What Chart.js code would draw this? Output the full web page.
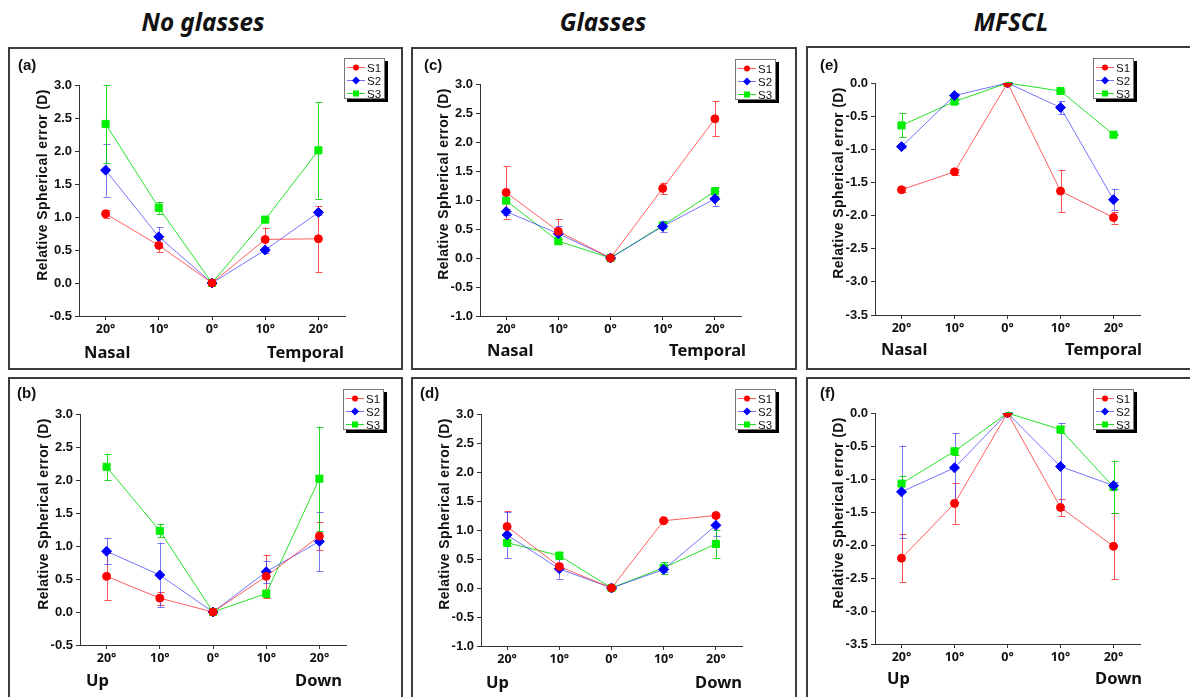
<!DOCTYPE html>
<html><head><meta charset="utf-8">
<script src="https://cdn.jsdelivr.net/npm/chart.js@4.4.1/dist/chart.umd.min.js"></script>
<style>
html,body{margin:0;padding:0}
body{width:1190px;height:697px;background:#fff;position:relative;overflow:hidden;font-family:'Liberation Sans',Arial,sans-serif}
.box{position:absolute;border:2px solid #3c3c3c;box-sizing:border-box}
canvas{position:absolute}
.title{position:absolute;top:4px;font-family:'Noto Sans',sans-serif;font-style:italic;font-weight:bold;font-size:25px;color:#111;transform:translateX(-50%) scaleX(0.97);white-space:nowrap}
.plabel{position:absolute;font-family:'Liberation Sans',Arial,sans-serif;font-weight:bold;font-size:15px;color:#111;line-height:16px}
.ytitle{position:absolute;font-family:'Liberation Sans Narrow','Liberation Sans',Arial,sans-serif;font-weight:bold;font-size:14px;letter-spacing:0.4px;color:#111;white-space:nowrap;transform:translate(-50%,-50%) rotate(-90deg)}
.dir{position:absolute;font-family:'Noto Sans',sans-serif;font-weight:bold;font-size:16.5px;color:#111;line-height:20px;white-space:nowrap}
.legend{position:absolute;width:41px;height:41px;background:#fff;border:1px solid #777;box-sizing:border-box;box-shadow:3px 3px 0 #000;padding-top:2px}
.legend .row{height:13px;display:flex;align-items:center;font-family:'Liberation Sans Narrow','Liberation Sans',Arial,sans-serif;font-size:11.5px;color:#111}
.legend svg{margin-left:2px;margin-right:2px}
</style>
</head><body>
<script>
// ---------- data ----------
const xLabels = ['20°','10°','0°','10°','20°'];
const seriesNames = ['S1','S2','S3'];

// (a) No glasses, Nasal-Temporal
const a_S1 = [1.05, 0.57, 0, 0.66, 0.67];
const a_S1_err = [0.06, 0.10, 0.02, 0.18, 0.50];
const a_S2 = [1.71, 0.70, 0, 0.50, 1.07];
const a_S2_err = [0.40, 0.15, 0.02, 0.05, 0.04];
const a_S3 = [2.41, 1.14, 0, 0.96, 2.01];
const a_S3_err = [0.59, 0.09, 0.02, 0.02, 0.73];

// (b) No glasses, Up-Down
const b_S1 = [0.54, 0.21, 0, 0.54, 1.15];
const b_S1_err = [0.36, 0.10, 0.02, 0.33, 0.21];
const b_S2 = [0.92, 0.56, 0, 0.61, 1.07];
const b_S2_err = [0.20, 0.49, 0.02, 0.17, 0.45];
const b_S3 = [2.20, 1.23, 0, 0.28, 2.02];
const b_S3_err = [0.20, 0.10, 0.02, 0.06, 0.79];

// (c) Glasses, Nasal-Temporal
const c_S1 = [1.13, 0.46, 0, 1.20, 2.40];
const c_S1_err = [0.45, 0.21, 0.02, 0.10, 0.30];
const c_S2 = [0.80, 0.42, 0, 0.545, 1.02];
const c_S2_err = [0.05, 0.14, 0.02, 0.10, 0.13];
const c_S3 = [0.99, 0.29, 0, 0.56, 1.15];
const c_S3_err = [0.03, 0.04, 0.02, 0.05, 0.08];

// (d) Glasses, Up-Down
const d_S1 = [1.06, 0.37, 0, 1.16, 1.25];
const d_S1_err = [0.26, 0.05, 0.02, 0.02, 0.03];
const d_S2 = [0.915, 0.33, 0, 0.32, 1.08];
const d_S2_err = [0.40, 0.17, 0.02, 0.04, 0.18];
const d_S3 = [0.78, 0.56, 0, 0.35, 0.76];
const d_S3_err = [0.05, 0.06, 0.02, 0.10, 0.24];

// (e) MFSCL, Nasal-Temporal
const e_S1 = [-1.61, -1.34, 0, -1.63, -2.03];
const e_S1_err = [0.04, 0.05, 0.02, 0.32, 0.09];
const e_S2 = [-0.96, -0.19, 0, -0.37, -1.76];
const e_S2_err = [0.02, 0.04, 0.02, 0.10, 0.16];
const e_S3 = [-0.64, -0.28, 0, -0.12, -0.78];
const e_S3_err = [0.18, 0.02, 0.02, 0.01, 0.01];

// (f) MFSCL, Up-Down
const f_S1 = [-2.20, -1.37, 0, -1.43, -2.02];
const f_S1_err = [0.36, 0.31, 0.02, 0.13, 0.50];
const f_S2 = [-1.195, -0.83, 0, -0.81, -1.10];
const f_S2_err = [0.70, 0.52, 0.02, 0.66, 0.05];
const f_S3 = [-1.07, -0.58, 0, -0.25, -1.12];
const f_S3_err = [0.12, 0.05, 0.02, 0.05, 0.40];

const columnTitles = ['No glasses', 'Glasses', 'MFSCL'];
const yAxisTitle = 'Relative Spherical error (D)';

// ---------- styles ----------
const seriesColor = ['#ff0000', '#0000ff', '#00ee00'];
const lineColor = ['rgba(255,40,40,0.75)', 'rgba(40,40,255,0.65)', 'rgba(0,220,0,0.85)'];
const errColor = ['rgba(255,40,40,0.8)', 'rgba(60,60,255,0.7)', 'rgba(0,210,0,0.85)'];
const pointStyle = ['circle', 'rectRot', 'rect'];
const pointRadius = [4, 5, 5];

// ---------- layout ----------
const panels = [
  {tag:'(a)', s:[a_S1,a_S2,a_S3], e:[a_S1_err,a_S2_err,a_S3_err], ymin:-0.5, ymax:3.0,
   box:[8,47,403,370], plot:[79,85,345,316], leg:[344,58], dirs:['Nasal','Temporal'], dirL:84, dirR:344, dirY:342, tagXY:[18,57]},
  {tag:'(c)', s:[c_S1,c_S2,c_S3], e:[c_S1_err,c_S2_err,c_S3_err], ymin:-1.0, ymax:3.0,
   box:[411,47,797,370], plot:[480,84,741,316], leg:[735,59], dirs:['Nasal','Temporal'], dirL:487, dirR:746, dirY:340, tagXY:[424,57]},
  {tag:'(e)', s:[e_S1,e_S2,e_S3], e:[e_S1_err,e_S2_err,e_S3_err], ymin:-3.5, ymax:0.0,
   box:[806,46,1194,370], plot:[875,83,1140,315], leg:[1093,58], dirs:['Nasal','Temporal'], dirL:881, dirR:1142, dirY:339, tagXY:[820,57]},
  {tag:'(b)', s:[b_S1,b_S2,b_S3], e:[b_S1_err,b_S2_err,b_S3_err], ymin:-0.5, ymax:3.0,
   box:[8,377,403,702], plot:[80,414,346,645], leg:[343,389], dirs:['Up','Down'], dirL:86, dirR:342, dirY:670, tagXY:[17,385]},
  {tag:'(d)', s:[d_S1,d_S2,d_S3], e:[d_S1_err,d_S2_err,d_S3_err], ymin:-1.0, ymax:3.0,
   box:[411,377,797,702], plot:[481,414,742,646], leg:[735,389], dirs:['Up','Down'], dirL:486, dirR:742, dirY:672, tagXY:[420,385]},
  {tag:'(f)', s:[f_S1,f_S2,f_S3], e:[f_S1_err,f_S2_err,f_S3_err], ymin:-3.5, ymax:0.0,
   box:[806,377,1194,702], plot:[875,413,1140,644], leg:[1093,389], dirs:['Up','Down'], dirL:887, dirR:1142, dirY:668, tagXY:[820,385]}
];
const titleCenters = [203, 603, 1011];

// ---------- error bar plugin (uses the chart's own scales) ----------
const errorBars = {
  id: 'errorBars',
  beforeDatasetsDraw(chart) {
    const ctx = chart.ctx, ys = chart.scales.y;
    chart.data.datasets.forEach((ds, di) => {
      const meta = chart.getDatasetMeta(di);
      ctx.save();
      ctx.strokeStyle = ds.errColor;
      ctx.lineWidth = 1;
      ds.errors.forEach((err, i) => {
        const p = meta.data[i];
        const v = ds.data[i];
        const x = Math.round(p.x) + 0.5;
        const t = ys.getPixelForValue(v + err), b = ys.getPixelForValue(v - err);
        ctx.beginPath();
        ctx.moveTo(x, t); ctx.lineTo(x, b);
        ctx.moveTo(x - 3, Math.round(t) + 0.5); ctx.lineTo(x + 4, Math.round(t) + 0.5);
        ctx.moveTo(x - 3, Math.round(b) + 0.5); ctx.lineTo(x + 4, Math.round(b) + 0.5);
        ctx.stroke();
      });
      ctx.restore();
    });
  }
};

function el(tag, cls, style, text) {
  const d = document.createElement(tag);
  if (cls) d.className = cls;
  Object.assign(d.style, style || {});
  if (text != null) d.textContent = text;
  document.body.appendChild(d);
  return d;
}

columnTitles.forEach((t, i) => el('div', 'title', {left: titleCenters[i] + 'px'}, t));

panels.forEach(p => {
  const [bl, bt, br, bb] = p.box;
  const [pl, pt, pr, pb] = p.plot;
  el('div', 'box', {left: bl + 'px', top: bt + 'px', width: (br - bl) + 'px', height: (bb - bt) + 'px'});
  const W = br - bl, H = bb - bt;
  const cv = el('canvas', null, {left: bl + 'px', top: bt + 'px', width: W + 'px', height: H + 'px'});
  cv.width = W; cv.height = H;

  el('div', 'plabel', {left: p.tagXY[0] + 'px', top: p.tagXY[1] + 'px'}, p.tag);
  el('div', 'ytitle', {left: (pl - 37) + 'px', top: (pt + 100) + 'px'}, yAxisTitle);
  el('div', 'dir', {left: p.dirL + 'px', top: p.dirY + 'px'}, p.dirs[0]);
  const r = el('div', 'dir', {top: p.dirY + 'px'}, p.dirs[1]);
  r.style.left = (p.dirR) + 'px'; r.style.transform = 'translateX(-100%)';

  // legend
  const lg = el('div', 'legend', {left: p.leg[0] + 'px', top: p.leg[1] + 'px'});
  seriesNames.forEach((n, i) => {
    const row = document.createElement('div'); row.className = 'row';
    let mk;
    if (i === 0) mk = `<circle cx="9" cy="4.5" r="3" fill="${seriesColor[i]}"/>`;
    else if (i === 1) mk = `<polygon points="9,0.5 13,4.5 9,8.5 5,4.5" fill="${seriesColor[i]}"/>`;
    else mk = `<rect x="6" y="1.5" width="6" height="6" fill="${seriesColor[i]}"/>`;
    row.innerHTML = `<svg width="18" height="9"><line x1="0" y1="4.5" x2="18" y2="4.5" stroke="${lineColor[i]}" stroke-width="1"/>${mk}</svg><span>${n}</span>`;
    lg.appendChild(row);
  });

  const datasets = seriesNames.map((n, i) => ({
    label: n,
    data: p.s[i],
    errors: p.e[i],
    errColor: errColor[i],
    borderColor: lineColor[i],
    borderWidth: 1,
    backgroundColor: seriesColor[i],
    pointBackgroundColor: seriesColor[i],
    pointBorderColor: seriesColor[i],
    pointBorderWidth: 1,
    pointStyle: pointStyle[i],
    pointRadius: pointRadius[i],
    tension: 0,
    fill: false
  }));

  const tickFontY = {family: "'Liberation Sans Narrow','Liberation Sans',Arial,sans-serif", weight: 'bold', size: 13};
  const tickFontX = {family: "'Noto Sans',sans-serif", weight: 'bold', size: 12.5};

  new Chart(cv, {
    type: 'line',
    data: {labels: xLabels, datasets},
    options: {
      responsive: false, animation: false, devicePixelRatio: 1,
      layout: {padding: {left: 0, top: pt - bt, right: br - pr, bottom: 0}},
      plugins: {legend: {display: false}, tooltip: {enabled: false}, title: {display: false}},
      scales: {
        x: {
          type: 'category', offset: true,
          grid: {display: true, offset: false, drawOnChartArea: false, drawTicks: true, tickLength: 4, color: '#333', lineWidth: 1},
          border: {display: true, color: '#333', width: 1},
          ticks: {font: tickFontX, color: '#111', padding: 2, maxRotation: 0, autoSkip: false},
          afterFit(s) { s.height = H - (pb - bt); }
        },
        y: {
          min: p.ymin, max: p.ymax,
          grid: {display: true, drawOnChartArea: false, drawTicks: true, tickLength: 4, color: '#333', lineWidth: 1},
          border: {display: true, color: '#333', width: 1},
          ticks: {stepSize: 0.5, font: tickFontY, color: '#111', padding: 3, callback: v => Number(v).toFixed(1)},
          afterFit(s) { s.width = pl - bl; }
        }
      }
    },
    plugins: [errorBars]
  });
});
</script>
</body></html>
